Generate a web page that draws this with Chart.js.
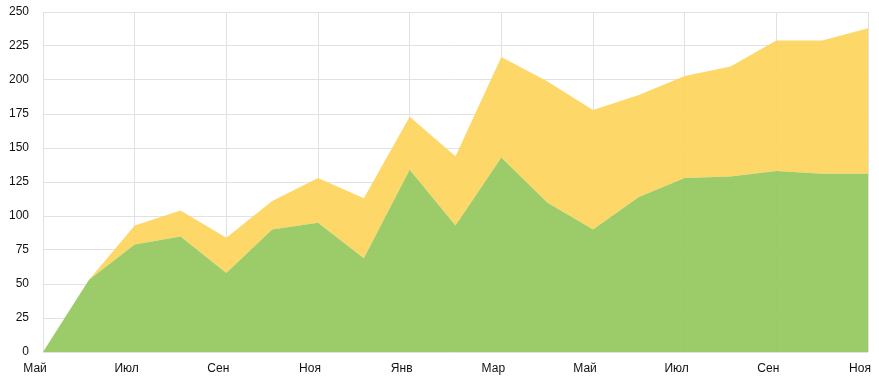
<!DOCTYPE html>
<html>
<head>
<meta charset="utf-8">
<script src="https://cdn.jsdelivr.net/npm/chart.js@4/dist/chart.umd.min.js"></script>
<style>
html,body{margin:0;padding:0;background:#fff;}
#wrap{width:879px;height:380px;position:relative;}
</style>
</head>
<body>
<div id="wrap"><canvas id="c"></canvas></div>
<script>
const categories = ['Май','Июн','Июл','Авг','Сен','Окт','Ноя','Дек','Янв','Фев','Мар','Апр','Май','Июн','Июл','Авг','Сен','Окт','Ноя'];
const greenSeries = [0,53,79,85,58,90,95,69,134,93,143,110,90,114,128,129,133,131,131];
const yellowSeries = [0,0,14,19,26,21,33,44,39,51,74,89,88,75,75,81,96,98,107];
const yTicks = [0,25,50,75,100,125,150,175,200,225,250];

Chart.defaults.font.family = '"Liberation Sans", Arial, sans-serif';
Chart.defaults.font.size = 12;
Chart.defaults.color = '#111';

new Chart(document.getElementById('c'), {
  type: 'line',
  data: {
    labels: categories,
    datasets: [
      {data: greenSeries, fill: 'origin', backgroundColor: 'rgba(146,200,92,0.92)', borderWidth: 0, pointRadius: 0, tension: 0},
      {data: yellowSeries, fill: '-1', backgroundColor: 'rgba(253,213,92,0.92)', borderWidth: 0, pointRadius: 0, tension: 0}
    ]
  },
  options: {
    responsive: true,
    maintainAspectRatio: false,
    animation: false,
    layout: {padding: {top: 12, right: 11, left: 0, bottom: 0}},
    plugins: {legend: {display: false}, tooltip: {enabled: false}},
    scales: {
      x: {
        grid: {color: '#e2e2e2', drawTicks: false},
        border: {display: false},
        ticks: {
          autoSkip: false, maxRotation: 0, padding: 9, labelOffset: -8,
          callback: function(v, i) { return i % 2 === 0 ? categories[i] : null; }
        },
        afterFit: function(axis) { axis.height = 28; axis.paddingLeft = 0; axis.paddingRight = 0; }
      },
      y: {
        stacked: true,
        min: 0, max: 250,
        afterBuildTicks: function(axis) { axis.ticks = yTicks.map(v => ({value: v})); },
        grid: {color: '#e2e2e2', drawTicks: false},
        border: {display: false},
        ticks: {padding: 14},
        afterFit: function(axis) { axis.width = 43; axis.paddingTop = 0; axis.paddingBottom = 0; }
      }
    }
  }
});
</script>
</body>
</html>
